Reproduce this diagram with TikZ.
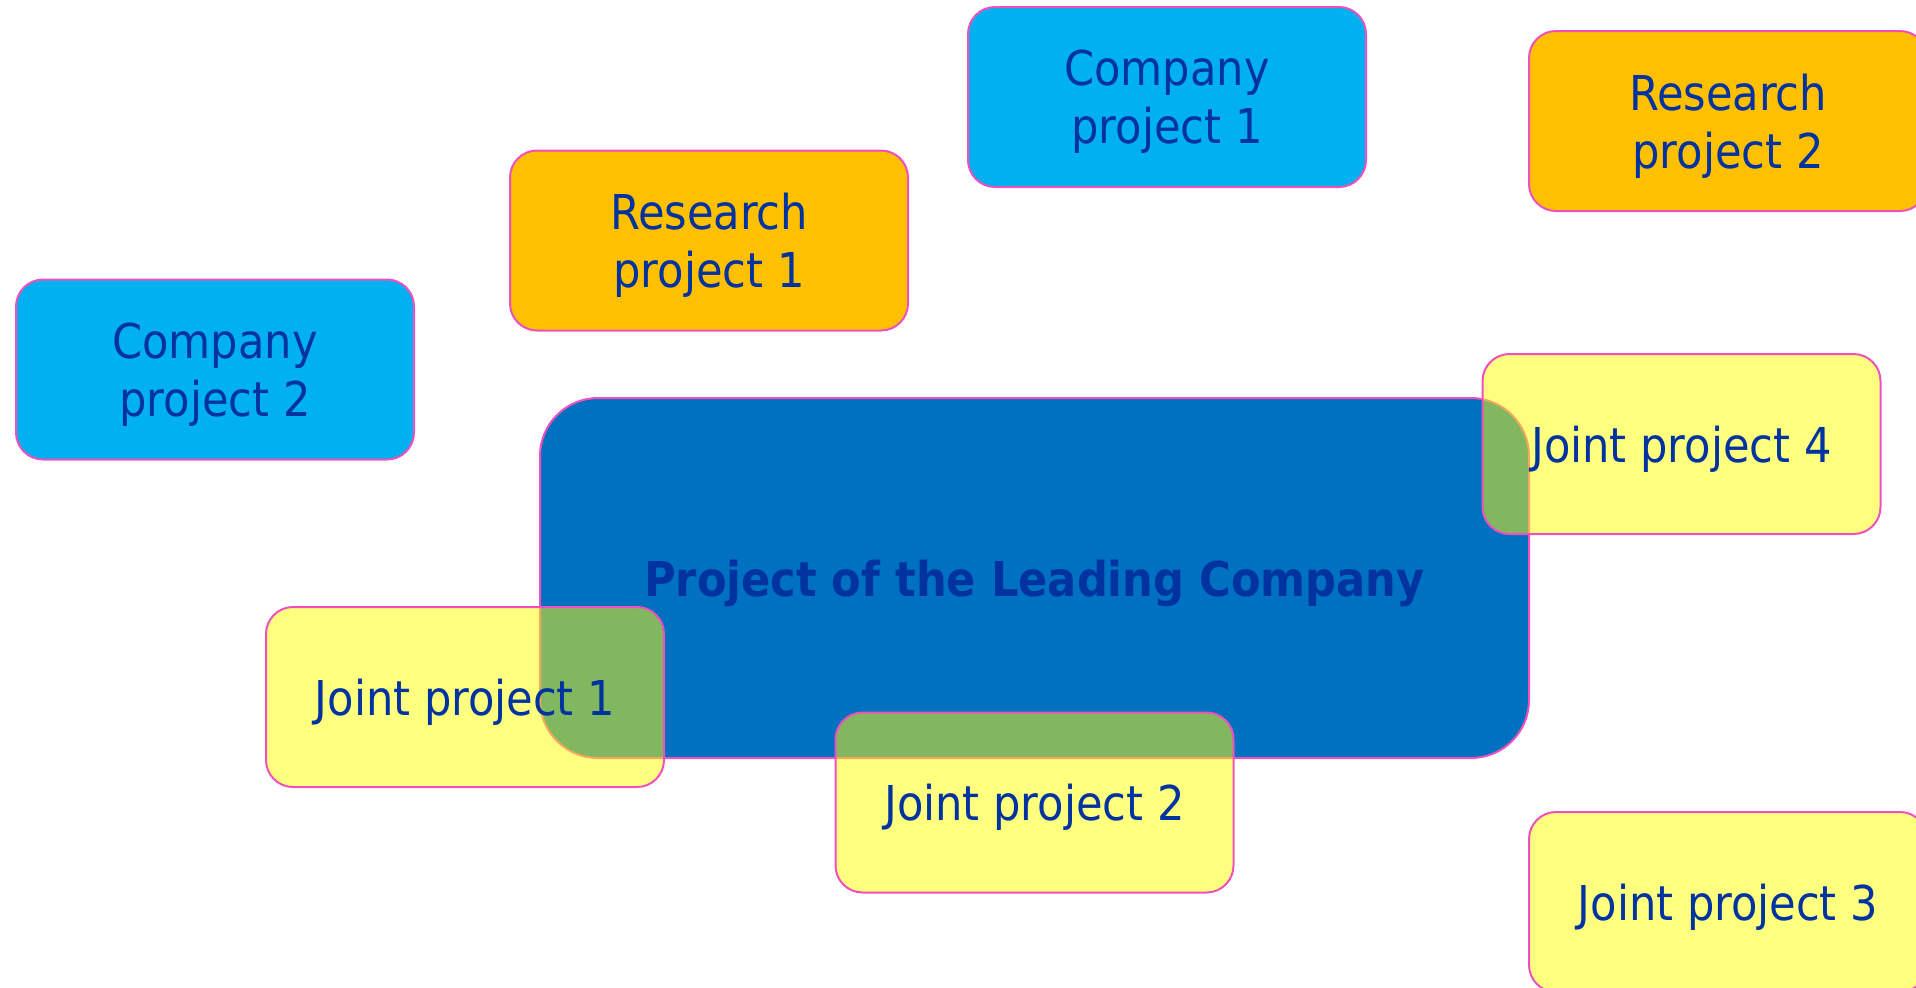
\documentclass[tikz,border=0pt]{standalone}
\usepackage{fontspec}
\newfontfamily\jfont{DejaVu Sans Condensed}
\definecolor{bordercol}{RGB}{240,80,190}
\definecolor{txtcol}{RGB}{0,51,160}
\definecolor{cyanfill}{RGB}{0,176,240}
\definecolor{orangefill}{RGB}{255,192,0}
\definecolor{mainfill}{RGB}{0,112,192}
\definecolor{yellowfill}{RGB}{255,255,0}
\begin{document}
\begin{tikzpicture}[x=0.5pt,y=-0.5pt,
  box/.style={rounded corners=13.5pt, draw=bordercol, line width=1pt,
    minimum width=199pt, minimum height=90pt, align=center, text=txtcol,
    inner sep=0pt, text depth=-1.2pt, font=\jfont\fontsize{24}{29}\selectfont},
  cbox/.style={box, fill=cyanfill},
  rbox/.style={box, fill=orangefill},
  jbox/.style={box, fill=yellowfill, fill opacity=0.5, draw opacity=1, text opacity=1},
  mainbox/.style={rounded corners=29pt, draw=bordercol, line width=1pt, fill=mainfill,
    minimum width=494.5pt, minimum height=180pt, text=txtcol, inner sep=0pt,
    text depth=-1.2pt, font=\jfont\bfseries\fontsize{24}{29}\selectfont}]
\useasboundingbox (0,0) rectangle (1916,987);
\fill[white] (0,0) rectangle (1916,987);
\node[cbox] (cp2) at (215,369.5) {Company\\project 2};
\node[rbox] (rp1) at (709,240.5) {Research\\project 1};
\node[cbox] (cp1) at (1167,97) {Company\\project 1};
\node[rbox] (rp2) at (1728,121) {Research\\project 2};
\node[mainbox] (main) at (1034.5,578) {Project of the Leading Company};
\node[jbox] (jp4) at (1681.5,444) {Joint project 4};
\node[jbox] (jp1) at (465,697) {Joint project 1};
\node[jbox] (jp2) at (1034.5,802.5) {Joint project 2};
\node[jbox] (jp3) at (1728,902) {Joint project 3};
\end{tikzpicture}
\end{document}
